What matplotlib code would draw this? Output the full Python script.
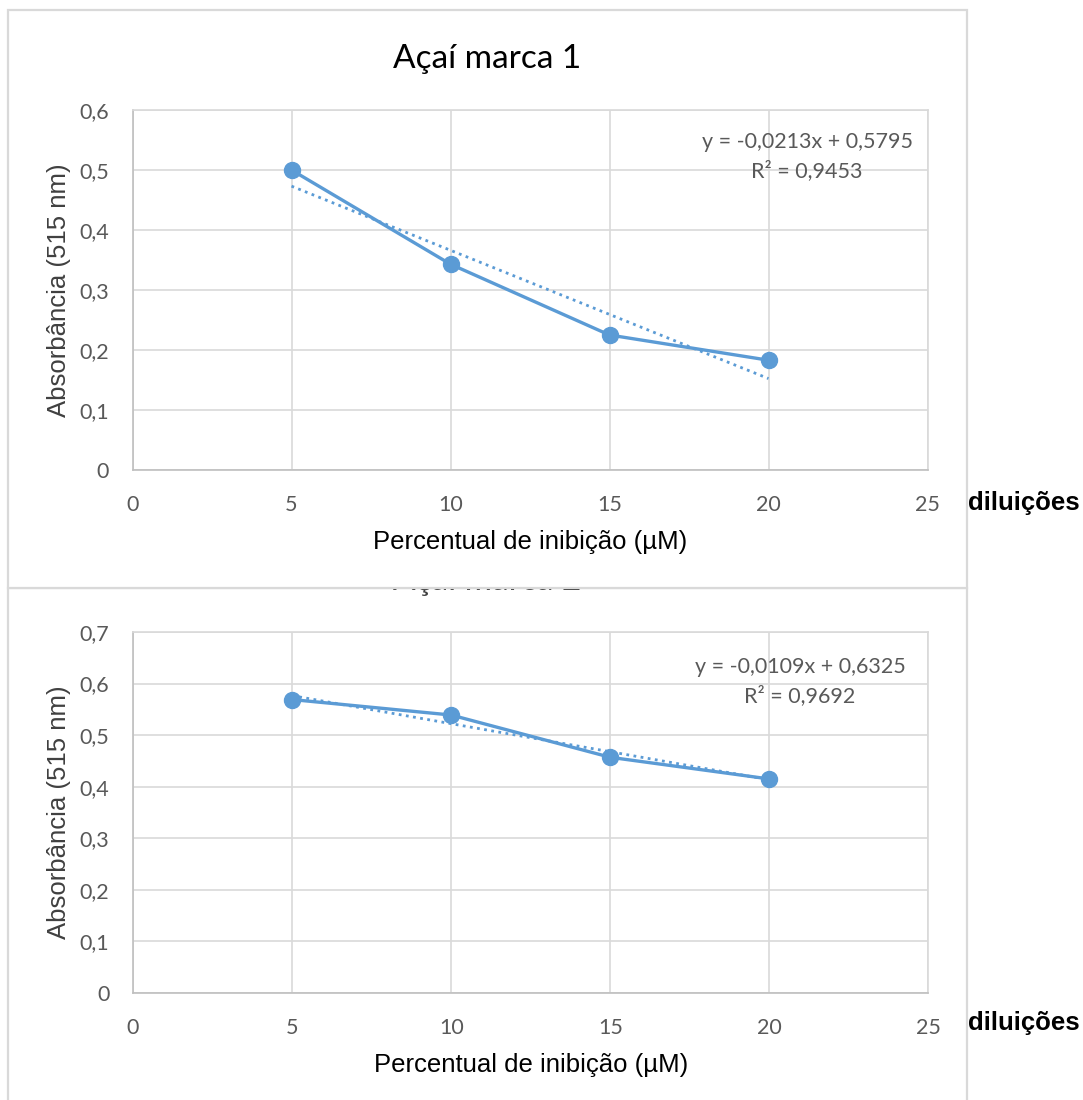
import numpy as np
import matplotlib
matplotlib.use("Agg")
import matplotlib.pyplot as plt
from matplotlib.patches import Rectangle

# dados
concentracao = [5, 10, 15, 20]
absorb_marca1 = [0.500, 0.343, 0.225, 0.183]
absorb_marca2 = [0.569, 0.539, 0.457, 0.415]
eq_marca1 = ["y = -0,0213x + 0,5795", "R² = 0,9453"]
eq_marca2 = ["y = -0,0109x + 0,6325", "R² = 0,9692"]
titulos = ["Açaí marca 1", "Açaí marca 2"]
xticks = [0, 5, 10, 15, 20, 25]
yticks_1 = [0, 0.1, 0.2, 0.3, 0.4, 0.5, 0.6]
yticks_2 = [0, 0.1, 0.2, 0.3, 0.4, 0.5, 0.6, 0.7]

W, H = 1083, 1100
AZUL = "#5B9BD5"
GRADE = "#D9D9D9"
CINZA = "#595959"
FONTE_NUM = "Lato"
FONTE_ROT = "Liberation Sans"

fig = plt.figure(figsize=(W / 100, H / 100), dpi=100)


def fx(px):
    return px / W


def fy(py):
    return 1 - py / H


def desenha_grafico(ax, y, yticks, eq, eq_pos):
    ax.plot(concentracao, y, color=AZUL, lw=2.4, marker="o", ms=11.5,
            solid_capstyle="round", zorder=3)
    # linha de tendência linear
    coef = np.polyfit(concentracao, y, 1)
    xs = np.array([concentracao[0], concentracao[-1]])
    ax.plot(xs, np.polyval(coef, xs), color=AZUL, lw=2.0,
            linestyle=(0, (1, 1.6)), zorder=2)
    ax.set_xlim(0, 25)
    ax.set_ylim(0, yticks[-1])
    ax.set_xticks(xticks)
    ax.set_yticks(yticks)
    ax.set_xticklabels([str(v) for v in xticks])
    ax.set_yticklabels([("%g" % v).replace(".", ",") for v in yticks])
    ax.grid(True, color=GRADE, lw=1.2)
    ax.set_axisbelow(True)
    for lado in ["top", "right"]:
        ax.spines[lado].set_color(GRADE)
        ax.spines[lado].set_linewidth(1.2)
    for lado in ["left", "bottom"]:
        ax.spines[lado].set_color("#BFBFBF")
        ax.spines[lado].set_linewidth(1.2)
    ax.tick_params(length=0, labelcolor=CINZA, labelsize=15.5)
    ax.tick_params(axis="x", pad=18)
    ax.tick_params(axis="y", pad=17)
    for lbl in ax.get_xticklabels() + ax.get_yticklabels():
        lbl.set_family(FONTE_NUM)
    ax.set_ylabel("Absorbância (515 nm)", fontsize=18.5, family=FONTE_ROT,
                  color="#404040", labelpad=6)
    ax.set_xlabel("Percentual de inibição (µM)", fontsize=18.5,
                  family=FONTE_ROT, color="black", labelpad=11)
    ex, ey1, ey2 = eq_pos
    fig.text(fx(ex), fy(ey1), eq[0], ha="center", va="center",
             fontsize=15.5, family=FONTE_NUM, color=CINZA, zorder=4)
    fig.text(fx(ex), fy(ey2), eq[1], ha="center", va="center",
             fontsize=15.5, family=FONTE_NUM, color=CINZA, zorder=4)


ax2 = fig.add_axes([fx(133), fy(993), fx(928.5) - fx(133), fy(632) - fy(993)])
desenha_grafico(ax2, absorb_marca2, yticks_2, eq_marca2, (800, 667, 696))

# título do segundo gráfico fica quase todo escondido atrás do primeiro
fig.text(fx(487), fy(590), titulos[1], ha="center", va="baseline",
         fontsize=24, family=FONTE_NUM, color="#404040", zorder=1)
fig.patches.append(Rectangle((fx(8), fy(588)), fx(967) - fx(8), fy(10) - fy(588),
                             transform=fig.transFigure, facecolor="white",
                             edgecolor=GRADE, lw=1.6, zorder=1.5))
fig.patches.append(Rectangle((fx(8), fy(1110)), fx(967) - fx(8), fy(588) - fy(1110),
                             transform=fig.transFigure, fill=False,
                             edgecolor=GRADE, lw=1.6, zorder=0))

ax1 = fig.add_axes([fx(132.5), fy(470), fx(927.5) - fx(132.5), fy(110) - fy(470)])
ax1.set_zorder(2)
desenha_grafico(ax1, absorb_marca1, yticks_1, eq_marca1, (807, 142, 171))
fig.text(fx(487), fy(68), titulos[0], ha="center", va="baseline",
         fontsize=24, family=FONTE_NUM, color="black", zorder=4)

for ypx in [503, 1023]:
    fig.text(fx(968), fy(ypx), "diluições", ha="left", va="center",
             fontsize=18.5, fontweight="bold", family=FONTE_ROT, color="black",
             zorder=4)

fig.savefig("out.png", dpi=100, facecolor="white")
